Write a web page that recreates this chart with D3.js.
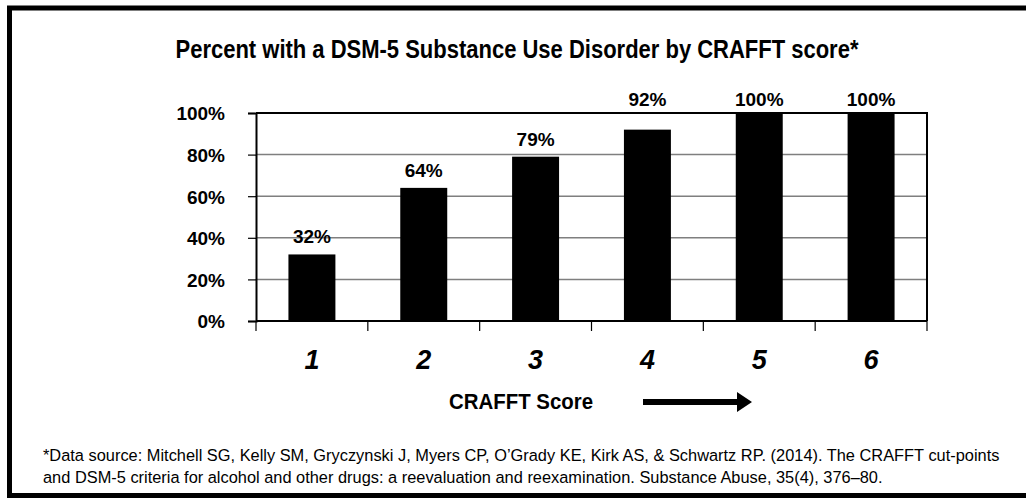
<!DOCTYPE html>
<html>
<head>
<meta charset="utf-8">
<script src="https://cdn.jsdelivr.net/npm/d3@7"></script>
<style>
  html, body { margin: 0; padding: 0; background: #fff; }
  svg { display: block; font-family: "Liberation Sans", Arial, sans-serif; }
</style>
</head>
<body>
<svg id="chart" width="1026" height="498"></svg>
<script>
// CRAFFT score categories and share meeting DSM-5 SUD criteria (%)
const scores = ["1", "2", "3", "4", "5", "6"];
const percents = [32, 64, 79, 92, 100, 100];
const yTicks = [0, 20, 40, 60, 80, 100];

const titleText = "Percent with a DSM-5 Substance Use Disorder by CRAFFT score*";
const axisTitle = "CRAFFT Score";
const sourceLines = [
  "*Data source: Mitchell SG, Kelly SM, Gryczynski J, Myers CP, O\u2019Grady KE, Kirk AS, & Schwartz RP. (2014). The CRAFFT cut-points",
  "and DSM-5 criteria for alcohol and other drugs: a reevaluation and reexamination. Substance Abuse, 35(4), 376\u201380."
];

const svg = d3.select("#chart");
const plot = { left: 256, right: 927, top: 113, bottom: 321 };

// text drawn horizontally condensed around its anchor point
function narrowText(sel, px, py, sx) {
  return sel.attr("x", 0).attr("y", 0)
    .attr("transform", `translate(${px},${py}) scale(${sx},1)`);
}

// outer frame: top, left and bottom edges
svg.append("path")
  .attr("d", "M1026,8 L9.5,8 L9.5,495.5 L1026,495.5")
  .attr("fill", "none").attr("stroke", "#000").attr("stroke-width", 5);

// title
svg.append("text")
  .attr("text-anchor", "middle")
  .attr("font-size", 25).attr("font-weight", "bold")
  .text(titleText)
  .call(narrowText, 517, 58, 0.88);

const x = d3.scaleBand().domain(scores)
  .range([plot.left, plot.right])
  .paddingInner(0.58).paddingOuter(0.29);
const y = d3.scaleLinear().domain([0, 100]).range([plot.bottom, plot.top]);

// horizontal gridlines
svg.append("g").selectAll("line")
  .data(yTicks.filter(t => t > 0 && t < 100))
  .join("line")
  .attr("x1", plot.left).attr("x2", plot.right)
  .attr("y1", d => y(d)).attr("y2", d => y(d))
  .attr("stroke", "#7f7f7f").attr("stroke-width", 1.5);

// bars
svg.append("g").selectAll("rect")
  .data(percents)
  .join("rect")
  .attr("x", (d, i) => x(scores[i]))
  .attr("width", x.bandwidth())
  .attr("y", d => y(d))
  .attr("height", d => y(0) - y(d))
  .attr("fill", "#000");

// top and right plot border
svg.append("path")
  .attr("d", `M${plot.left},${y(100)} L${plot.right},${y(100)} L${plot.right},${y(0)}`)
  .attr("fill", "none").attr("stroke", "#000").attr("stroke-width", 2);

// y axis
const yAxis = svg.append("g")
  .attr("transform", `translate(${plot.left},0)`)
  .call(d3.axisLeft(y).tickValues(yTicks).tickFormat(d => d + "%")
    .tickSize(8).tickPadding(23));
yAxis.select(".domain").attr("stroke", "#000").attr("stroke-width", 2);
yAxis.selectAll(".tick line").attr("stroke", "#000").attr("stroke-width", 1.2);
yAxis.selectAll(".tick text")
  .attr("font-size", 19).attr("font-weight", "bold").attr("fill", "#000")
  .attr("font-family", "Liberation Sans, Arial, sans-serif")
  .attr("dy", "0.36em");

// x axis: ticks at category boundaries
const bounds = d3.range(scores.length + 1).map(i => plot.left + i * x.step());
const xAxisG = svg.append("g");
xAxisG.append("line")
  .attr("x1", plot.left).attr("x2", plot.right)
  .attr("y1", y(0)).attr("y2", y(0))
  .attr("stroke", "#000").attr("stroke-width", 2);
xAxisG.selectAll("line.tick")
  .data(bounds)
  .join("line").attr("class", "tick")
  .attr("x1", d => d).attr("x2", d => d)
  .attr("y1", y(0)).attr("y2", y(0) + 10)
  .attr("stroke", "#000").attr("stroke-width", 1.2);
xAxisG.selectAll("text")
  .data(scores)
  .join("text")
  .attr("x", d => x(d) + x.bandwidth() / 2)
  .attr("y", 369)
  .attr("text-anchor", "middle")
  .attr("font-size", 27).attr("font-weight", "bold").attr("font-style", "italic")
  .text(d => d);

// value labels; a label that would cross the top border sits above it
const labelGap = 11, capHeight = 14;
svg.append("g").selectAll("text")
  .data(percents)
  .join("text")
  .attr("x", (d, i) => x(scores[i]) + x.bandwidth() / 2)
  .attr("y", d => {
    const base = y(d) - labelGap;
    return base - capHeight < plot.top ? plot.top - 7 : base;
  })
  .attr("text-anchor", "middle")
  .attr("font-size", 19).attr("font-weight", "bold")
  .text(d => d + "%");

// x axis title with arrow
svg.append("text")
  .attr("text-anchor", "middle")
  .attr("font-size", 21.5).attr("font-weight", "bold")
  .text(axisTitle)
  .call(narrowText, 521, 409, 0.95);
svg.append("path")
  .attr("d", "M643,399 L737,399 L737,392 L752,402 L737,412 L737,405 L643,405 Z")
  .attr("fill", "#000");

// data source note, condensed so the first line spans the frame
const notes = svg.append("g").selectAll("text")
  .data(sourceLines)
  .join("text")
  .attr("font-size", 17)
  .text(d => d);
const firstWidth = notes.node().getComputedTextLength();
const noteScale = 957 / firstWidth;
notes.each(function (d, i) {
  narrowText(d3.select(this), 43, 461 + i * 22, noteScale);
});
</script>
</body>
</html>
